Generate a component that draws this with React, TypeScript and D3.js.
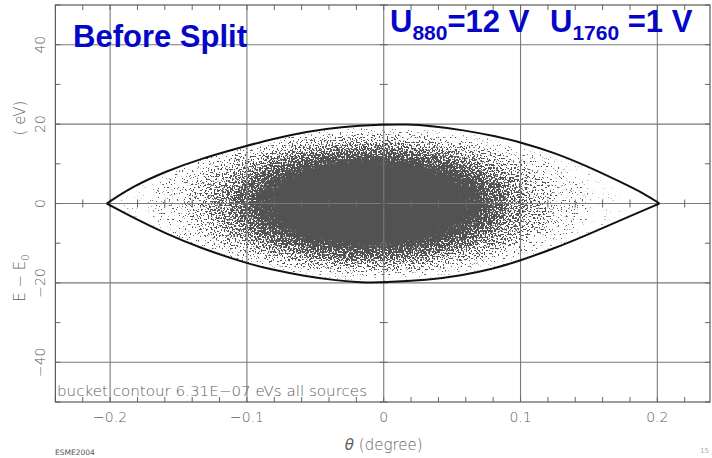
import React from 'react';
import * as d3 from 'd3';

// Separatrix (bucket contour) sampled along theta, in degrees / eV
const contourTheta = [-0.2025, -0.183, -0.1586, -0.1343, -0.105, -0.0807, -0.0563, -0.032, 0, 0.0168, 0.034, 0.058, 0.0826, 0.1, 0.124, 0.148, 0.1727, 0.192, 0.2015];
const contourUpper = [0, 4.4, 8.2, 11.2, 14.1, 16.3, 18.1, 19.3, 19.9, 19.95, 19.6, 18.5, 16.9, 15.4, 12.9, 9.5, 5.5, 2.2, 0];
const lowerTheta = [-0.2025, -0.183, -0.1586, -0.1343, -0.099, -0.0826, -0.058, -0.034, -0.0168, 0, 0.032, 0.0563, 0.0807, 0.0996, 0.124, 0.148, 0.1727, 0.2015];
const contourLower = [0, -3.6, -7.7, -11.2, -15.2, -16.6, -18.3, -19.4, -19.9, -19.9, -19.3, -18.2, -16.4, -14.4, -11.4, -8.0, -4.3, 0];

// Particle cloud: nested density levels (outermost first)
const cloudCenterTheta = -0.01;
const cloudCenterEnergy = 0;
const cloudThetaRadius = [0.185, 0.16, 0.135, 0.117, 0.1, 0.086, 0.07];
const cloudEnergyRadius = [20, 18.5, 17, 15.5, 14, 12, 10];
const cloudDensity = [0.05, 0.12, 0.28, 0.5, 0.75, 0.95, 1];

// Axes
const xTicks = [-0.2, -0.1, 0, 0.1, 0.2];
const xTickLabels = ['\u22120.2', '\u22120.1', '0', '0.1', '0.2'];
const yTicks = [-40, -20, 0, 20, 40];
const yTickLabels = ['\u221240', '\u221220', '0', '20', '40'];

const W = 712;
const H = 458;
const left = 55.4;
const right = 710;
const top = 5;
const bottom = 402;

const x = d3.scaleLinear().domain([-0.24, 0.2385]).range([left, right]);
const y = d3.scaleLinear().domain([-50, 50]).range([bottom, top]);

const gridColor = '#7a7a7a';
const textColor = '#5e5e5e';
const axisFont = '"DejaVu Sans", sans-serif';
const blue = '#0606c8';

export default function App() {
  const minorX = x.ticks(24);
  const minorY = d3.range(-50, 51, 10);

  const upperPts: [number, number][] = contourTheta.map((t, i) => [t, contourUpper[i]]);
  const lowerPts: [number, number][] = lowerTheta.map((t, i) => [t, contourLower[i]]);
  const line = d3
    .line<[number, number]>()
    .x((d) => x(d[0]))
    .y((d) => y(d[1]))
    .curve(d3.curveBasis);
  const upperPath = line(upperPts) || '';
  const lowerPath = line(lowerPts) || '';
  const bucket = d3
    .line<[number, number]>()
    .x((d) => x(d[0]))
    .y((d) => y(d[1]))
    .curve(d3.curveLinear)(upperPts.concat(lowerPts.slice().reverse())) || '';

  // convert cumulative densities into per-ellipse opacities for "over" compositing
  const alphas: number[] = [];
  cloudDensity.forEach((dv, i) => {
    const prev = i === 0 ? 0 : cloudDensity[i - 1];
    alphas.push(prev >= 1 ? 1 : (dv - prev) / (1 - prev));
  });

  const cx = x(cloudCenterTheta);
  const cy = y(cloudCenterEnergy);
  const pxPerTheta = x(1) - x(0);
  const pxPerE = y(0) - y(1);

  return (
    <svg
      width={W}
      height={H}
      viewBox={`0 0 ${W} ${H}`}
      style={{ position: 'absolute', left: 0, top: 0, background: '#fff' }}
    >
      <defs>
        <clipPath id="bucketClip">
          <path d={bucket} />
        </clipPath>
        <filter
          id="stipple"
          filterUnits="userSpaceOnUse"
          x={left}
          y={top}
          width={right - left}
          height={bottom - top}
          colorInterpolationFilters="sRGB"
        >
          <feGaussianBlur in="SourceAlpha" stdDeviation="4" result="dens" />
          <feTurbulence type="fractalNoise" baseFrequency="0.62" numOctaves={1} seed={7} result="noise" />
          <feColorMatrix
            in="noise"
            type="matrix"
            values="0 0 0 0 0  0 0 0 0 0  0 0 0 0 0  1 0 0 0 0"
            result="noiseA"
          />
          <feComponentTransfer in="noiseA" result="noiseU">
            <feFuncA type="table" tableValues="0 0 0 0.03 0.17 0.48 0.8 0.9 0.92 0.92 0.92" />
          </feComponentTransfer>
          <feComposite in="dens" in2="noiseU" operator="arithmetic" k1={0} k2={1} k3={-1} k4={0} result="diff" />
          <feComponentTransfer in="diff" result="dots">
            <feFuncA type="linear" slope="12" intercept="0" />
          </feComponentTransfer>
          <feGaussianBlur in="dots" stdDeviation="0.45" result="softDots" />
          <feFlood floodColor="#525252" result="ink" />
          <feComposite in="ink" in2="softDots" operator="in" />
        </filter>
      </defs>

      {/* particle cloud */}
      <g clipPath="url(#bucketClip)">
        <g filter="url(#stipple)">
          {cloudThetaRadius.map((rt, i) => (
            <ellipse
              key={i}
              cx={cx}
              cy={cy}
              rx={rt * pxPerTheta}
              ry={cloudEnergyRadius[i] * pxPerE}
              fill="#000"
              fillOpacity={alphas[i]}
            />
          ))}
        </g>
      </g>

      {/* grid */}
      <g stroke={gridColor} strokeWidth={1.1}>
        {xTicks.map((t) => (
          <line key={'gx' + t} x1={x(t)} x2={x(t)} y1={top} y2={bottom} />
        ))}
        {yTicks.map((t) => (
          <line key={'gy' + t} x1={left} x2={right} y1={y(t)} y2={y(t)} />
        ))}
      </g>

      {/* minor ticks on frame and on zero lines */}
      <g stroke="#666" strokeWidth={1}>
        {minorX.map((t, i) => (
          <g key={'mx' + i}>
            <line x1={x(t)} x2={x(t)} y1={bottom} y2={bottom - 5} />
            <line x1={x(t)} x2={x(t)} y1={top} y2={top + 5} />
            <line x1={x(t)} x2={x(t)} y1={y(0) - 4} y2={y(0) + 4} />
          </g>
        ))}
        {minorY.map((t, i) => (
          <g key={'my' + i}>
            <line x1={left} x2={left + 5} y1={y(t)} y2={y(t)} />
            <line x1={right} x2={right - 5} y1={y(t)} y2={y(t)} />
            <line x1={x(0) - 4} x2={x(0) + 4} y1={y(t)} y2={y(t)} />
          </g>
        ))}
      </g>

      {/* frame */}
      <rect x={left} y={top} width={right - left} height={bottom - top} fill="none" stroke="#5a5a5a" strokeWidth={1.2} />

      {/* separatrix */}
      <path d={upperPath} fill="none" stroke="#111" strokeWidth={2} />
      <path d={lowerPath} fill="none" stroke="#111" strokeWidth={2} />

      {/* tick labels */}
      <g fill={textColor} fontFamily={axisFont} fontWeight={200} fontSize={14}>
        {xTicks.map((t, i) => (
          <text key={'lx' + t} x={x(t)} y={422} textAnchor="middle">
            {xTickLabels[i]}
          </text>
        ))}
        {yTicks.map((t, i) => (
          <text key={'ly' + t} transform={`translate(45,${y(t)}) rotate(-90)`} textAnchor="middle">
            {yTickLabels[i]}
          </text>
        ))}
      </g>

      {/* axis titles */}
      <g fill={textColor} fontFamily={axisFont} fontWeight={200} fontSize={15}>
        <text x={x(0)} y={450} textAnchor="middle">
          <tspan fontStyle="italic">θ</tspan> (degree)
        </text>
        <text transform={`translate(25,278) rotate(-90)`} textAnchor="middle">
          E − E<tspan fontSize={10} dy={4}>0</tspan>
        </text>
        <text transform={`translate(25,118) rotate(-90)`} textAnchor="middle">
          ( eV)
        </text>
      </g>

      <text
        x={57}
        y={395.5}
        fill={textColor}
        fontFamily={axisFont}
        fontWeight={200}
        fontSize={14.5}
        textLength={310}
        lengthAdjust="spacingAndGlyphs"
      >
        bucket contour 6.31E−07 eVs all sources
      </text>

      {/* headline labels */}
      <text x={73} y={46.7} fill={blue} fontFamily='"Liberation Sans", Arial, sans-serif' fontWeight="bold" fontSize={31}>
        Before Split
      </text>
      <text y={32.3} fill={blue} fontFamily='"Liberation Sans", Arial, sans-serif' fontWeight="bold" fontSize={31}>
        <tspan x={390}>U</tspan>
        <tspan fontSize={21} dy={8}>880</tspan>
        <tspan dy={-8}>=12 V</tspan>
        <tspan x={550}>U</tspan>
        <tspan fontSize={21} dy={8}>1760</tspan>
        <tspan dy={-8}> =1 V</tspan>
      </text>

      {/* footer marks */}
      <text x={55} y={455} fill="#555" fontFamily={axisFont} fontSize={7.5}>
        ESME2004
      </text>
      <text x={700} y={453} fill="#aaa" fontFamily={axisFont} fontSize={7}>
        15
      </text>
    </svg>
  );
}
